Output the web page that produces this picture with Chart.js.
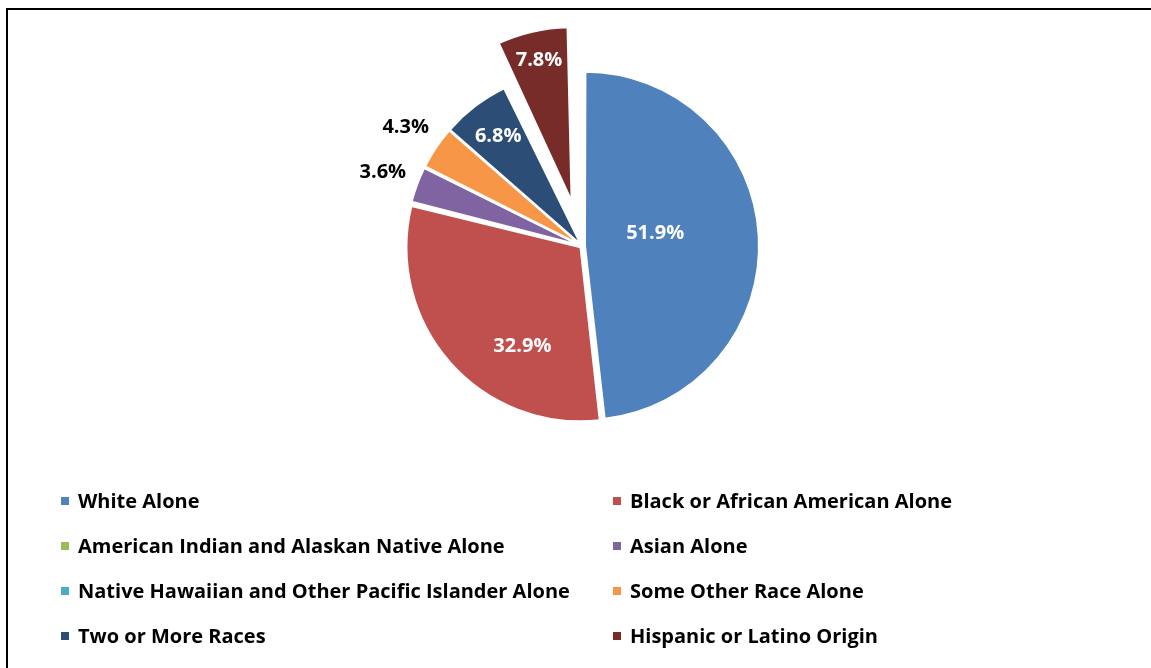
<!DOCTYPE html>
<html>
<head>
<meta charset="utf-8">
<script src="https://cdn.jsdelivr.net/npm/chart.js@4.4.0/dist/chart.umd.min.js"></script>
<style>
  body { margin: 0; background: #fff; width: 1151px; height: 668px; overflow: hidden; position: relative; }
  .frame { position: absolute; left: 6px; top: 8px; width: 1200px; height: 700px; border-top: 2px solid #000; border-left: 2px solid #000; }
  .chart-box { position: absolute; left: 0; top: 0; width: 1151px; height: 492px; }
  #legend { position: absolute; left: 58px; top: 478px; display: grid; grid-template-columns: 552px 500px; grid-auto-rows: 45px;
            font-family: "Open Sans", sans-serif; font-weight: bold; font-size: 20px; color: #000; }
  #legend div { display: flex; align-items: center; }
  #legend span.sw { width: 8px; height: 8px; margin: 0 9px 0 3px; flex: none; }
</style>
</head>
<body>
<div class="frame"></div>
<div class="chart-box"><canvas id="pieChart"></canvas></div>
<div id="legend"></div>
<script>
const categories = [
  "White Alone",
  "Black or African American Alone",
  "American Indian and Alaskan Native Alone",
  "Asian Alone",
  "Native Hawaiian and Other Pacific Islander Alone",
  "Some Other Race Alone",
  "Two or More Races",
  "Hispanic or Latino Origin"
]
const shares = [51.9, 32.9, 0.2, 3.6, 0.1, 4.3, 6.8, 7.8]
const shownLabels = ["51.9%", "32.9%", "", "3.6%", "", "4.3%", "6.8%", "7.8%"]
const colors = ["#4F81BD", "#C0504D", "#9BBB59", "#8064A2", "#4BACC6", "#F79646", "#2C4D75", "#772C2A"]

const pieRadius = 174

// label placement relative to each slice: fraction of radius, angle shift (deg), text colour
const labelStyle = [
  {r: 0.41, da: -7, color: "#fff"},
  {r: 0.66, da: -18, color: "#fff"},
  null,
  {r: 1.21, da: 0, color: "#000"},
  null,
  {r: 1.21, da: 0, color: "#000"},
  {r: 0.78, da: 0, color: "#fff"},
  {r: 0.83, da: 0, color: "#fff"}
]

// chart.js grows an exploded arc's radius; keep every slice at the same radius
const keepRadius = {
  id: 'keepRadius',
  afterDatasetsUpdate(chart) {
    const meta = chart.getDatasetMeta(0)
    meta.data.forEach(arc => {
      const off = (arc.options.offset || 0) / 4
      const fix = 1 - Math.sin(Math.min(Math.PI, arc.circumference || 0))
      arc.outerRadius = pieRadius - off * fix
    })
  }
}

const sliceLabels = {
  id: 'sliceLabels',
  afterDatasetsDraw(chart) {
    const ctx = chart.ctx
    const meta = chart.getDatasetMeta(0)
    ctx.save()
    ctx.font = 'bold 20px "Open Sans", sans-serif'
    ctx.textAlign = 'center'
    ctx.textBaseline = 'middle'
    meta.data.forEach((arc, i) => {
      const st = labelStyle[i]
      if (!st || !shownLabels[i]) return
      const off = (arc.options.offset || 0) / 4
      const mid = (arc.startAngle + arc.endAngle) / 2 + st.da * Math.PI / 180
      const d = off + st.r * pieRadius
      ctx.fillStyle = st.color
      ctx.fillText(shownLabels[i], arc.x + Math.cos(mid) * d, arc.y + Math.sin(mid) * d)
    })
    ctx.restore()
  }
}

const chart = new Chart(document.getElementById('pieChart'), {
  type: 'pie',
  data: {
    labels: categories,
    datasets: [{
      data: shares,
      backgroundColor: colors,
      borderColor: '#fff',
      borderWidth: 2,
      offset: [12, 8, 8, 8, 8, 8, 8, 184]
    }]
  },
  options: {
    responsive: true,
    maintainAspectRatio: false,
    animation: false,
    radius: pieRadius,
    layout: { padding: { left: 13, top: 0, right: 0, bottom: 0 } },
    plugins: {
      legend: { display: false },
      tooltip: { enabled: false }
    }
  },
  plugins: [keepRadius, sliceLabels]
})

const legendEl = document.getElementById('legend')
chart.data.labels.forEach((name, i) => {
  const item = document.createElement('div')
  const sw = document.createElement('span')
  sw.className = 'sw'
  sw.style.background = chart.data.datasets[0].backgroundColor[i]
  item.appendChild(sw)
  item.appendChild(document.createTextNode(name))
  legendEl.appendChild(item)
})
</script>
</body>
</html>
